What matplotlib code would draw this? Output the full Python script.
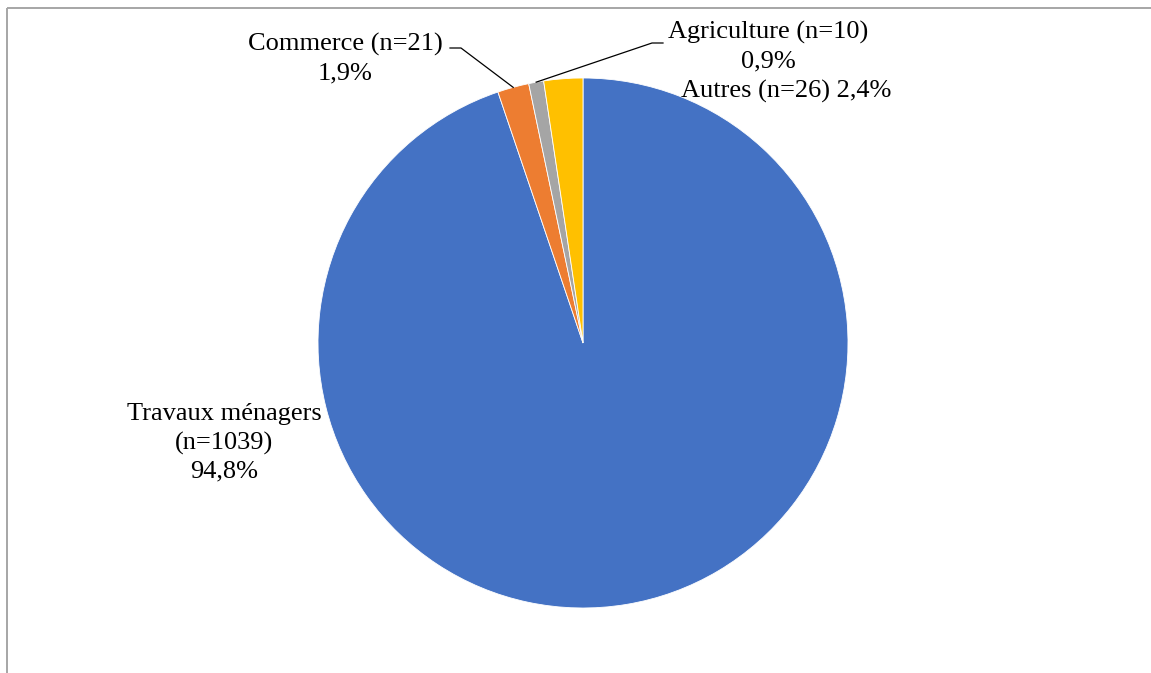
import numpy as np
import matplotlib
matplotlib.use('Agg')
import matplotlib.pyplot as plt

categories = ['Travaux ménagers', 'Commerce', 'Agriculture', 'Autres']
counts = [1039, 21, 10, 26]
colors = ['#4472C4', '#ED7D31', '#A5A5A5', '#FFC000']

W, H = 1151, 673
FONT = 19  # pt at 100 dpi

plt.rcParams['font.family'] = ['Liberation Serif', 'DejaVu Serif']

fig = plt.figure(figsize=(W / 100, H / 100), dpi=100)
ax = fig.add_axes([0, 0, 1, 1])

center = (583, H - 343)
radius = 265
wedges, _ = ax.pie(counts, colors=colors, startangle=90, counterclock=False,
                   center=center, radius=radius,
                   wedgeprops=dict(edgecolor='white', linewidth=0.6))

ax.set_xlim(0, W)
ax.set_ylim(0, H)
ax.set_aspect('equal')
ax.axis('off')

# frame around the chart area (only top and left edges fall inside)
ax.plot([7, 7], [0, H - 8], color='#A6A6A6', lw=1.4, solid_capstyle='butt')
ax.plot([7, W], [H - 8, H - 8], color='#A6A6A6', lw=1.4, solid_capstyle='butt')

total = sum(counts)
pct = [f'{100 * c / total:.1f}'.replace('.', ',') + '%' for c in counts]


def edge_point(w):
    mid = np.deg2rad((w.theta1 + w.theta2) / 2)
    return center[0] + radius * np.cos(mid), center[1] + radius * np.sin(mid)


txt = dict(fontsize=FONT, ha='center', va='center', linespacing=1.36)

# Travaux ménagers
ax.text(224, H - 443, f'{categories[0]}\n(n={counts[0]})\n{pct[0]}', **txt)

# Commerce with leader line
ax.text(345, H - 59, f'{categories[1]} (n={counts[1]})\n{pct[1]}', **txt)
px, py = edge_point(wedges[1])
ax.plot([450, 461, px], [H - 48, H - 48, py], color='black', lw=0.9)

# Agriculture with leader line
ax.text(768, H - 47, f'{categories[2]} (n={counts[2]})\n{pct[2]}', **txt)
px, py = edge_point(wedges[2])
ax.plot([663, 652, px], [H - 43, H - 43, py], color='black', lw=0.9)

# Autres
ax.text(786, H - 91, f'{categories[3]} (n={counts[3]}) {pct[3]}', **txt)

fig.savefig('out.png', dpi=100, facecolor='white')
